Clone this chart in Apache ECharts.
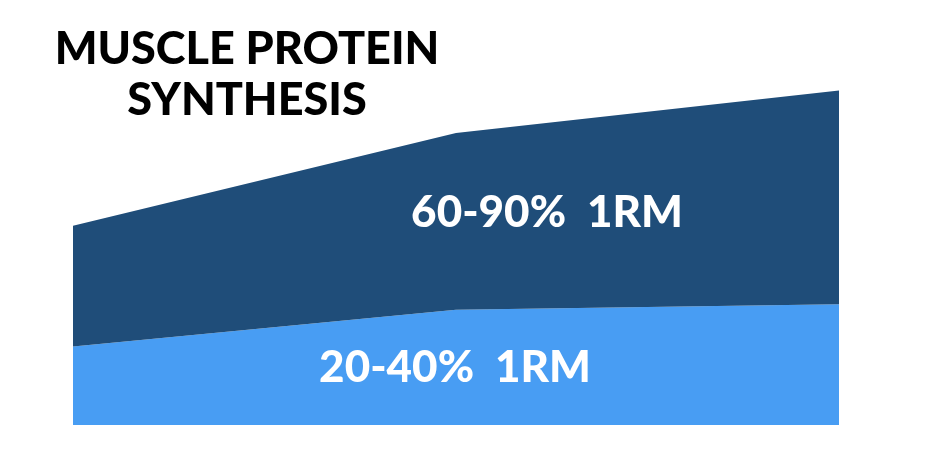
<!DOCTYPE html>
<html>
<head>
<meta charset="utf-8">
<script src="https://cdn.jsdelivr.net/npm/echarts@6/dist/echarts.min.js"></script>
<style>html,body{margin:0;padding:0;background:#fff}#c{width:950px;height:466px}</style>
</head>
<body>
<div id="c"></div>
<script>
const categories = ['Start', 'Middle', 'End'];
const lowLoad = [19.6, 28.8, 30.2];
const highLoad = [30.2, 44.2, 53.4];
const seriesNames = ['20-40% 1RM', '60-90% 1RM'];
const titleText = 'MUSCLE PROTEIN\nSYNTHESIS';

const chart = echarts.init(document.getElementById('c'));
const font = 'Lato';
chart.setOption({
  animation: false,
  title: {
    text: titleText,
    left: 242, top: 19, textAlign: 'center',
    textStyle: { fontFamily: font, fontWeight: 900, fontSize: 45, lineHeight: 51, color: '#000' }
  },
  grid: { left: 73, right: 111, top: 25, bottom: 41 },
  xAxis: { type: 'category', data: categories, boundaryGap: false, show: false },
  yAxis: { type: 'value', min: 0, max: 100, show: false },
  series: [
    { name: seriesNames[0], type: 'line', stack: 'a', data: lowLoad, symbol: 'none',
      lineStyle: { width: 0 }, areaStyle: { color: '#489DF3', opacity: 1 } },
    { name: seriesNames[1], type: 'line', stack: 'a', data: highLoad, symbol: 'none',
      lineStyle: { width: 0 }, areaStyle: { color: '#1F4D79', opacity: 1 } }
  ],
  graphic: [
    { type: 'text', x: 547, y: 213, z: 100, style: { text: seriesNames[1].replace(' ', '  '), fill: '#fff', fontFamily: font, fontWeight: 900, fontSize: 44, align: 'center', verticalAlign: 'middle' } },
    { type: 'text', x: 455, y: 368, z: 100, style: { text: seriesNames[0].replace(' ', '  '), fill: '#fff', fontFamily: font, fontWeight: 900, fontSize: 44, align: 'center', verticalAlign: 'middle' } }
  ]
});
</script>
</body>
</html>
